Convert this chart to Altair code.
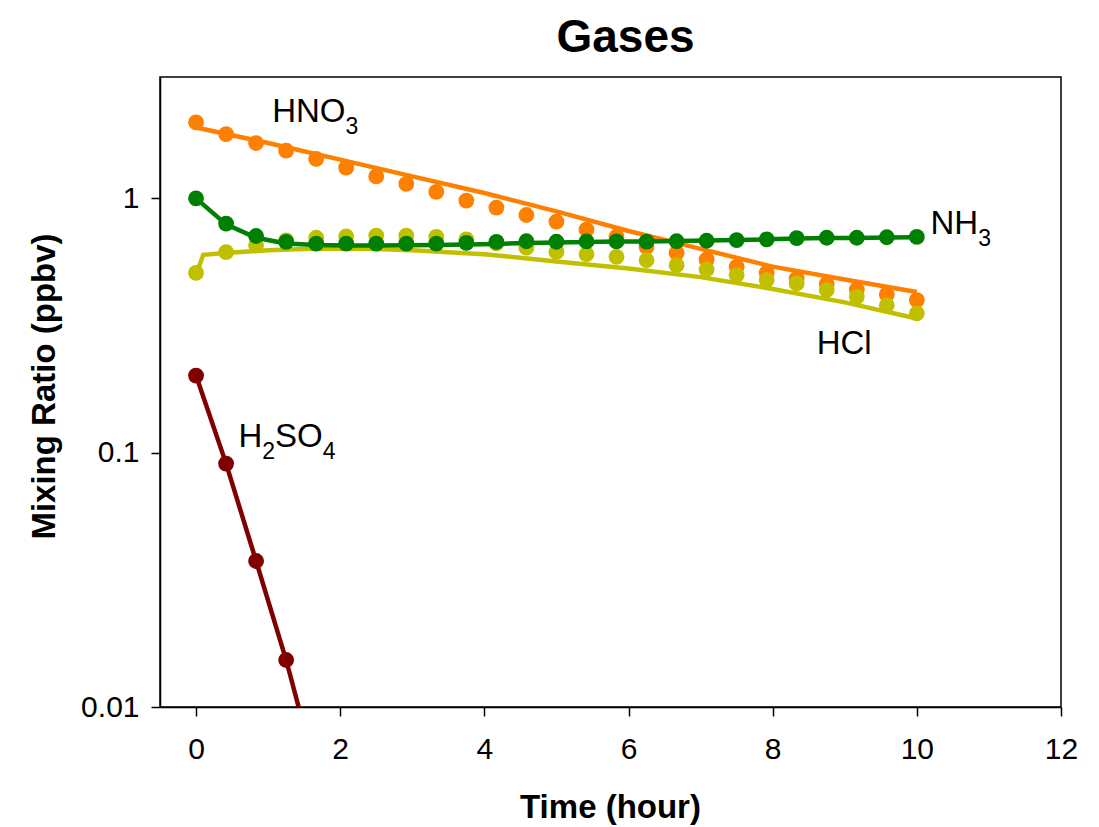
import altair as alt
import pandas as pd

FONT = "Liberation Sans, Arial, Helvetica, sans-serif"

# ---- data ----
t_dots = [0, 0.417, 0.833, 1.25, 1.667, 2.083, 2.5, 2.917, 3.333, 3.75, 4.167, 4.583,
          5, 5.417, 5.833, 6.25, 6.667, 7.083, 7.5, 7.917, 8.333, 8.75, 9.167, 9.583, 10]

hno3_dots = [1.99, 1.79, 1.65, 1.54, 1.43, 1.32, 1.22, 1.14, 1.06, 0.98, 0.92, 0.86,
             0.81, 0.754, 0.705, 0.644, 0.61, 0.575, 0.538, 0.51, 0.484, 0.46, 0.438, 0.419, 0.398]
hcl_dots = [0.509, 0.615, 0.654, 0.684, 0.70, 0.709, 0.713, 0.713, 0.705, 0.69, 0.665, 0.64,
            0.616, 0.603, 0.589, 0.571, 0.546, 0.525, 0.499, 0.477, 0.463, 0.436, 0.41, 0.38, 0.353]
nh3_dots = [1.0, 0.796, 0.711, 0.674, 0.664, 0.664, 0.664, 0.664, 0.664, 0.668, 0.674, 0.678,
            0.675, 0.677, 0.677, 0.676, 0.678, 0.681, 0.685, 0.69, 0.697, 0.70, 0.70, 0.703, 0.705]
nh3_line = [1.0, 0.79, 0.70, 0.665, 0.655, 0.653, 0.653, 0.654, 0.655, 0.658, 0.662, 0.667,
            0.671, 0.674, 0.676, 0.677, 0.679, 0.682, 0.686, 0.69, 0.695, 0.698, 0.699, 0.701, 0.703]

hno3_line_t = [0, 1, 2, 3, 4, 5, 6, 6.63, 7, 8, 9, 10]
hno3_line_v = [1.90, 1.65, 1.42, 1.22, 1.05, 0.889, 0.744, 0.673, 0.633, 0.539, 0.48, 0.428]

hcl_line_t = [0, 0.1, 0.5, 1, 1.5, 2, 2.5, 3, 4, 5, 6, 7, 8, 9, 10]
hcl_line_v = [0.5, 0.60, 0.612, 0.625, 0.632, 0.635, 0.632, 0.625, 0.603, 0.565, 0.53, 0.49,
              0.44, 0.39, 0.337]

h2so4_t = [0, 0.417, 0.833, 1.25, 1.667]
h2so4_v = [0.201, 0.0906, 0.0375, 0.0153, 0.0055]

label_names = ["HNO3", "NH3", "HCl", "H2SO4"]
label_t = [1.056, 10.19, 8.61, 0.588]
label_v = [1.989, 0.727, 0.245, 0.105]

x_ticks = [0, 2, 4, 6, 8, 10, 12]
y_ticks = [0.01, 0.1, 1]

COL = {"HNO3": "#FF8000", "HCl": "#C0C000", "NH3": "#008000", "H2SO4": "#800000"}

X = alt.X("t:Q", scale=alt.Scale(domain=[-0.5, 12], nice=False, zero=False),
          axis=alt.Axis(values=x_ticks, title="Time (hour)", grid=False, tickSize=9,
                        labelPadding=18, labelFlush=False, titleX=450, titleY=100,
                        titleBaseline="middle", titleAlign="center"))
Y = alt.Y("v:Q", scale=alt.Scale(type="log", domain=[0.01, 3], nice=False),
          axis=alt.Axis(values=y_ticks, format="~g", title="Mixing Ratio (ppbv)", grid=False,
                        tickSize=9, labelPadding=12, titleX=-116, titleY=309, titleAngle=-90,
                        titleBaseline="middle", titleAlign="center"))


def line(ts, vs, name):
    df = pd.DataFrame({"t": ts, "v": vs})
    return alt.Chart(df).mark_line(color=COL[name], strokeWidth=4.5, clip=True).encode(x=X, y=Y)


def dots(ts, vs, name):
    df = pd.DataFrame({"t": ts, "v": vs})
    return alt.Chart(df).mark_circle(color=COL[name], size=250, opacity=1, clip=True).encode(x=X, y=Y)


layers = [
    dots(t_dots, hno3_dots, "HNO3"),
    line(hno3_line_t, hno3_line_v, "HNO3"),
    dots(t_dots, hcl_dots, "HCl"),
    line(hcl_line_t, hcl_line_v, "HCl"),
    line(t_dots, nh3_line, "NH3"),
    dots(t_dots, nh3_dots, "NH3"),
    line(h2so4_t, h2so4_v, "H2SO4"),
    dots(h2so4_t, h2so4_v, "H2SO4"),
]

# species labels with subscripts
WIDTH = {"H": 0.722, "N": 0.722, "O": 0.778, "S": 0.667, "C": 0.722, "l": 0.222}
MAIN_FS, SUB_FS, SUB_DY = 33, 23, 12
for name, t, v in zip(label_names, label_t, label_v):
    segs = []
    for ch in name:
        sub = ch.isdigit()
        if segs and segs[-1][1] == sub:
            segs[-1][0] += ch
        else:
            segs.append([ch, sub])
    dx = 0.0
    for text, sub in segs:
        fs = SUB_FS if sub else MAIN_FS
        df = pd.DataFrame({"t": [t], "v": [v], "s": [text]})
        layers.append(
            alt.Chart(df).mark_text(align="left", baseline="alphabetic", font=FONT,
                                    fontSize=fs, color="black", dx=dx,
                                    dy=SUB_DY if sub else 0).encode(x=X, y=Y, text="s:N"))
        dx += sum(WIDTH.get(c, 0.556) for c in text) * fs

chart = alt.layer(*layers).properties(
    width=901, height=630,
    autosize=alt.AutoSizeParams(type="none"),
    padding={"left": 152, "top": 69, "right": 20, "bottom": 118},
    title=alt.TitleParams("Gases", fontSize=46, fontWeight="bold", font=FONT,
                          anchor="middle", offset=15, dx=15, color="black"),
    background="white",
).configure_view(stroke="black", strokeWidth=1.5).configure_axis(
    labelFont=FONT, titleFont=FONT, labelFontSize=30, titleFontSize=33,
    titleFontWeight="bold", labelColor="black", titleColor="black",
    domainColor="black", domainWidth=1.5, tickColor="black", tickWidth=1.5,
)

chart.save("out.html", embed_options={"renderer": "svg", "actions": False})
